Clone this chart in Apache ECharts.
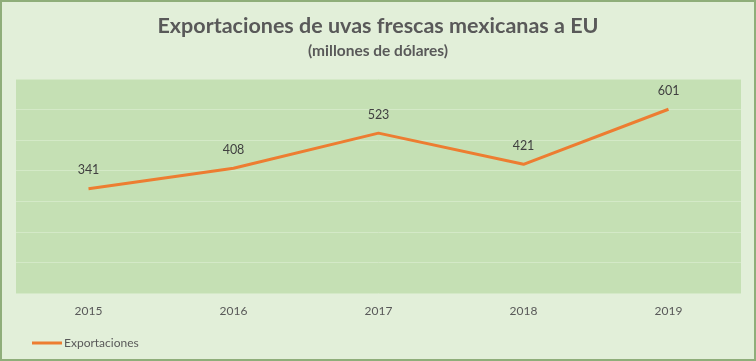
<!DOCTYPE html>
<html><head><meta charset="utf-8">
<script src="https://cdn.jsdelivr.net/npm/echarts@6/dist/echarts.min.js"></script>
<style>html,body{margin:0;padding:0;background:#e2efd9}#c{width:756px;height:361px;box-sizing:border-box;border:2px solid #8fae7a}</style>
</head><body><div id="c"></div>
<script>
const categories = ['2015','2016','2017','2018','2019'];
const exportaciones = [341, 408, 523, 421, 601];
const seriesName = 'Exportaciones';
const titleText = 'Exportaciones de uvas frescas mexicanas a EU';
const subtitleText = '(millones de dólares)';

const chart = echarts.init(document.getElementById('c'), null, {renderer:'canvas'});
chart.setOption({
  backgroundColor: '#e2efd9',
  animation: false,
  title: {
    text: titleText, subtext: subtitleText, left: 'center', top: 8, itemGap: 6,
    textStyle: {fontFamily: 'Lato', fontWeight: 'bold', fontSize: 21.5, color: '#595959'},
    subtextStyle: {fontFamily: 'Lato', fontWeight: 'bold', fontSize: 15.5, color: '#595959'}
  },
  legend: {
    left: 25, bottom: 5, icon: 'rect', itemWidth: 30, itemHeight: 3, itemGap: 10,
    textStyle: {fontFamily: 'Lato', fontSize: 12, color: '#595959', padding: [0,0,0,-3]},
    data: [seriesName]
  },
  grid: {left: 14, right: 13, top: 77, bottom: 66, show: true, backgroundColor: '#c5e0b4', borderWidth: 0},
  xAxis: {
    type: 'category', data: categories, boundaryGap: true,
    axisLine: {show: false}, axisTick: {show: false},
    axisLabel: {fontFamily: 'Lato', fontSize: 12, color: '#595959', margin: 12}
  },
  yAxis: {
    type: 'value', min: 0, max: 700, interval: 100,
    axisLabel: {show: false}, axisLine: {show: false}, axisTick: {show: false},
    splitLine: {lineStyle: {color: '#d4e9c7', width: 1}}
  },
  series: [{
    name: seriesName, type: 'line', data: exportaciones,
    symbol: 'circle', symbolSize: 0.1, showSymbol: true,
    lineStyle: {color: '#ed7d31', width: 3}, itemStyle: {color: '#ed7d31'},
    label: {show: true, position: 'top', distance: 12, fontFamily: 'Lato', fontSize: 12.5, color: '#404040'}
  }]
});
</script></body></html>
